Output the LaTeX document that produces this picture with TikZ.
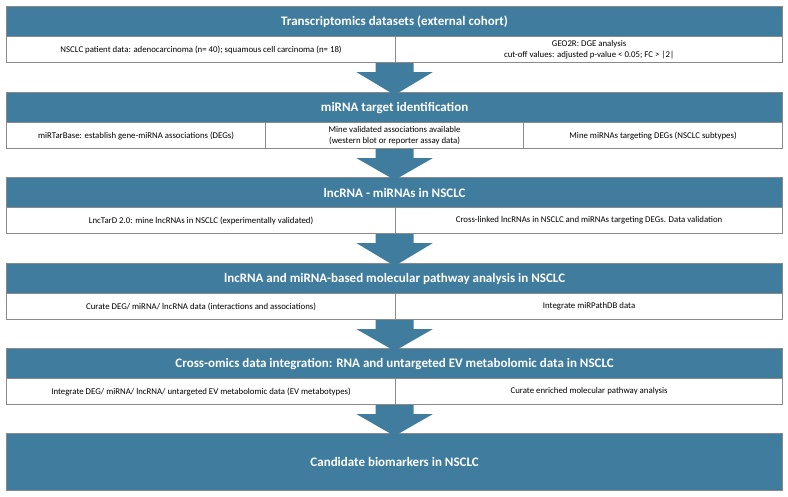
\documentclass[tikz,border=0pt]{standalone}
\usepackage{fontspec}
\setmainfont{Carlito}
\usetikzlibrary{calc}
\definecolor{hdrblue}{HTML}{3F7C9E}
\definecolor{edgegray}{HTML}{8A8A8A}
\tikzset{
  hdr/.style={draw=edgegray, line width=1.2pt, fill=hdrblue, text=white, anchor=north west,
    inner sep=0pt, font=\fontsize{13}{15}\selectfont\bfseries, minimum height=30pt},
  cell/.style={draw=edgegray, line width=1.2pt, fill=white, text=black, anchor=north west,
    inner sep=0pt, align=center, font=\fontsize{8.8}{11}\selectfont, minimum height=26pt},
  arrowfill/.style={fill=hdrblue, draw=none}
}
\newcommand{\flowarrow}[2]{%
  \fill[arrowfill] ($(#1)+(-19,0)$) -- ($(#1)+(19,0)$) -- ($(#1)+(19,9)$) -- ($(#1)+(38,9)$)
    -- ($(#2)+(0,3)$) -- ($(#1)+(-38,9)$) -- ($(#1)+(-19,9)$) -- cycle;}
\begin{document}
\begin{tikzpicture}[x=1pt,y=-1pt]
\useasboundingbox (0,0) rectangle (788,497);
% Row 1
\node[hdr, minimum width=776pt] (h1) at (6,6) {Transcriptomics datasets (external cohort)};
\node[cell, minimum width=389pt] (c1a) at (6,36) {NSCLC patient data: adenocarcinoma (n= 40); squamous cell carcinoma (n= 18)};
\node[cell, minimum width=387pt] (c1b) at (395,36) {GEO2R: DGE analysis\\cut-off values: adjusted p-value < 0.05; FC > |2|};
% Row 2
\node[hdr, minimum width=776pt] (h2) at (6,92) {miRNA target identification};
\node[cell, minimum width=259pt] (c2a) at (6,122) {miRTarBase: establish gene-miRNA associations (DEGs)};
\node[cell, minimum width=258pt] (c2b) at (265,122) {Mine validated associations available\\(western blot or reporter assay data)};
\node[cell, minimum width=259pt] (c2c) at (523,122) {Mine miRNAs targeting DEGs (NSCLC subtypes)};
% Row 3
\node[hdr, minimum width=776pt] (h3) at (6,177) {lncRNA - miRNAs in NSCLC};
\node[cell, minimum width=389pt] (c3a) at (6,207) {LncTarD 2.0: mine lncRNAs in NSCLC (experimentally validated)};
\node[cell, minimum width=387pt] (c3b) at (395,207) {Cross-linked lncRNAs in NSCLC and miRNAs targeting DEGs. Data validation};
% Row 4
\node[hdr, minimum width=776pt] (h4) at (6,263) {lncRNA and miRNA-based molecular pathway analysis in NSCLC};
\node[cell, minimum width=389pt] (c4a) at (6,293) {Curate DEG/ miRNA/ lncRNA data (interactions and associations)};
\node[cell, minimum width=387pt] (c4b) at (395,293) {Integrate miRPathDB data};
% Row 5
\node[hdr, minimum width=776pt] (h5) at (6,348) {Cross-omics data integration: RNA and untargeted EV metabolomic data in NSCLC};
\node[cell, minimum width=389pt] (c5a) at (6,378) {Integrate DEG/ miRNA/ lncRNA/ untargeted EV metabolomic data (EV metabotypes)};
\node[cell, minimum width=387pt] (c5b) at (395,378) {Curate enriched molecular pathway analysis};
% Final
\node[hdr, minimum width=776pt, minimum height=57pt] (h6) at (6,433) {Candidate biomarkers in NSCLC};
% Arrows
\coordinate (t1) at (h1.south |- c1a.south); \coordinate (b1) at (h2.north);
\coordinate (t2) at (h2.south |- c2a.south); \coordinate (b2) at (h3.north);
\coordinate (t3) at (h3.south |- c3a.south); \coordinate (b3) at (h4.north);
\coordinate (t4) at (h4.south |- c4a.south); \coordinate (b4) at (h5.north);
\coordinate (t5) at (h5.south |- c5a.south); \coordinate (b5) at (h6.north);
\flowarrow{t1}{b1}
\flowarrow{t2}{b2}
\flowarrow{t3}{b3}
\flowarrow{t4}{b4}
\flowarrow{t5}{b5}
\end{tikzpicture}
\end{document}
